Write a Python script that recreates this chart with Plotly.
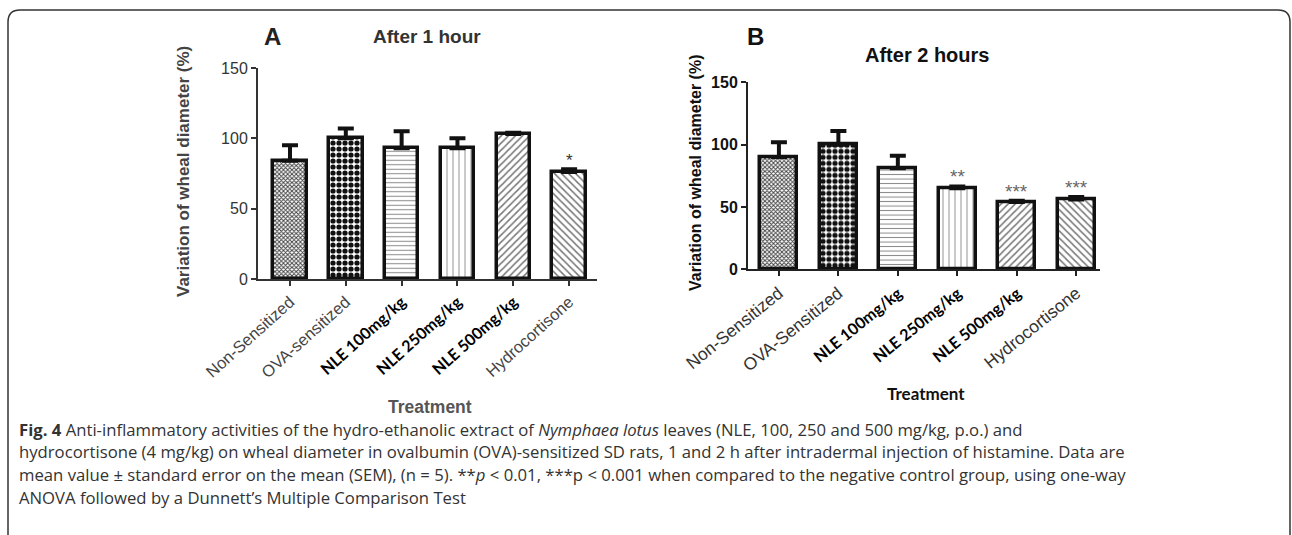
import plotly.graph_objects as go

W, H = 1292, 535

categories_a = ["Non-Sensitized", "OVA-sensitized", "NLE 100mg/kg", "NLE 250mg/kg", "NLE 500mg/kg", "Hydrocortisone"]
categories_b = ["Non-Sensitized", "OVA-Sensitized", "NLE 100mg/kg", "NLE 250mg/kg", "NLE 500mg/kg", "Hydrocortisone"]
values_a = [84, 100, 93, 93, 103, 76]
errors_a = [11, 7, 12, 7, 1, 2]
values_b = [90, 100, 81, 65, 54, 56]
errors_b = [12, 11, 10, 1.5, 1, 2]
signif_a = ["", "", "", "", "", "*"]
signif_b = ["", "", "", "**", "***", "***"]
yticks = [0, 50, 100, 150]

def px(x):
    return x / W

def py(y):
    return 1 - y / H

patterns = dict(
    shape=["x", ".", "-", "|", "/", "\\"],
    fgcolor=["#444444", "#111111", "#888888", "#888888", "#777777", "#777777"],
    bgcolor="white",
    size=[3, 6, 4.5, 6, 5, 5],
    solidity=[0.55, 0.6, 0.22, 0.15, 0.3, 0.3],
    fillmode="replace",
)

def tick_html(lbl, nle_size):
    if lbl.startswith("NLE"):
        return (f"<span style='font-family:Lato;font-weight:bold;color:#000;"
                f"font-size:{nle_size}px'>{lbl}</span>")
    return lbl

fig = go.Figure()
fig.add_trace(go.Bar(
    x=list(range(6)), y=values_a, xaxis="x", yaxis="y",
    width=0.6,
    marker=dict(color="white", line=dict(color="#111", width=3.5), pattern=patterns),
    error_y=dict(type="data", symmetric=False, array=errors_a, arrayminus=[0]*6,
                 color="#111", thickness=4, width=8),
    showlegend=False,
))
fig.add_trace(go.Bar(
    x=list(range(6)), y=values_b, xaxis="x2", yaxis="y2",
    width=0.62,
    marker=dict(color="white", line=dict(color="#111", width=3.5), pattern=patterns),
    error_y=dict(type="data", symmetric=False, array=errors_b, arrayminus=[0]*6,
                 color="#111", thickness=4, width=8),
    showlegend=False,
))

axis_common = dict(showgrid=False, zeroline=False, showline=True, ticks="outside",
                   ticklen=5, tickwidth=2, fixedrange=True, automargin=False)

fig.update_layout(
    width=W, height=H, margin=dict(l=0, r=0, t=0, b=0, autoexpand=False),
    paper_bgcolor="white", plot_bgcolor="white",
    bargap=0,
    xaxis=dict(domain=[px(258), px(597)], range=[-0.573, 5.5], anchor="y",
               tickmode="array", tickvals=list(range(6)),
               ticktext=[tick_html(c, 16) for c in categories_a],
               tickangle=-42, linecolor="#333", linewidth=2, tickcolor="#333",
               tickfont=dict(family="Liberation Sans, Arial", size=16.5, color="#444"),
               **axis_common),
    yaxis=dict(domain=[py(279), py(68)], range=[0, 150], anchor="x",
               tickmode="array", tickvals=yticks,
               linecolor="#333", linewidth=2, tickcolor="#333",
               tickfont=dict(family="Liberation Sans, Arial", size=16, color="#333"),
               **axis_common),
    xaxis2=dict(domain=[px(748), px(1100)], range=[-0.52, 5.40], anchor="y2",
                tickmode="array", tickvals=list(range(6)),
                ticktext=[tick_html(c, 16) for c in categories_b],
                tickangle=-39, linecolor="#222", linewidth=2, tickcolor="#222",
                tickfont=dict(family="Liberation Sans, Arial", size=17.5, color="#333"),
                **axis_common),
    yaxis2=dict(domain=[py(269.3), py(82.3)], range=[0, 150], anchor="x2",
                tickmode="array", tickvals=yticks,
                ticktext=[f"<b>{v}</b>" for v in yticks],
                linecolor="#222", linewidth=2, tickcolor="#222",
                tickfont=dict(family="Liberation Sans, Arial", size=16, color="#111"),
                **axis_common),
)

ann = []
for i, s in enumerate(signif_a):
    if s:
        ann.append(dict(x=i, y=values_a[i] + errors_a[i], xref="x", yref="y", text=s,
                        showarrow=False, yanchor="bottom", yshift=-3,
                        font=dict(family="Liberation Sans", size=17, color="#333")))
for i, s in enumerate(signif_b):
    if s:
        ann.append(dict(x=i, y=values_b[i] + errors_b[i], xref="x2", yref="y2", text=s,
                        showarrow=False, yanchor="bottom", yshift=-3,
                        font=dict(family="Liberation Sans", size=19, color="#666")))

def txt(x, y, text, size, color, family="Liberation Sans, Arial", angle=0, xanchor="center", bold=True):
    t = f"<b>{text}</b>" if bold else text
    ann.append(dict(x=px(x), y=py(y), xref="paper", yref="paper", text=t, showarrow=False,
                    xanchor=xanchor, yanchor="middle", textangle=angle,
                    font=dict(family=family, size=size, color=color)))

txt(272, 37, "A", 24, "#222")
txt(427, 37, "After 1 hour", 19, "#333")
txt(755, 37, "B", 24, "#111")
txt(927, 55, "After 2 hours", 20, "#111")
txt(183, 172, "Variation of wheal diameter (%)", 17, "#444", angle=-90)
txt(695, 173, "Variation of wheal diameter (%)", 16, "#111", angle=-90)
txt(430, 407, "Treatment", 17.5, "#555")
txt(926, 393, "Treatment", 17, "#111", family="Lato")

cap_lines = [
    "<b>Fig. 4</b> Anti-inflammatory activities of the hydro-ethanolic extract of <i>Nymphaea lotus</i> leaves (NLE, 100, 250 and 500 mg/kg, p.o.) and",
    "hydrocortisone (4 mg/kg) on wheal diameter in ovalbumin (OVA)-sensitized SD rats, 1 and 2 h after intradermal injection of histamine. Data are",
    "mean value ± standard error on the mean (SEM), (n = 5). **<i>p</i> &lt; 0.01, ***p &lt; 0.001 when compared to the negative control group, using one-way",
    "ANOVA followed by a Dunnett’s Multiple Comparison Test",
]
for k, line in enumerate(cap_lines):
    txt(17, 429 + 22.8 * k, line, 16.7, "#333", family="Open Sans", xanchor="left", bold=False)

fig.update_layout(annotations=ann)

r = 12
path = (f"M {px(8)},{py(545)} L {px(8)},{py(10 + r)} Q {px(8)},{py(10)} {px(8 + r)},{py(10)} "
        f"L {px(1290 - r)},{py(10)} Q {px(1290)},{py(10)} {px(1290)},{py(10 + r)} L {px(1290)},{py(545)}")
fig.add_shape(type="path", path=path, xref="paper", yref="paper",
              line=dict(color="#333", width=1.5))

fig.write_html("out.html")
